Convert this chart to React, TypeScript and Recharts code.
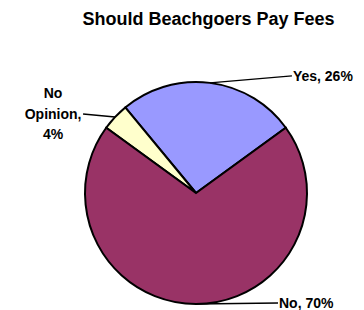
import React from "react";
import { PieChart, Pie, Cell } from "recharts";

const categories = ["Yes", "No Opinion", "No"];
const values = [26, 4, 70];
const colors = ["#9999FF", "#FFFFCC", "#993366"];
const titleText = "Should Beachgoers Pay Fees";

const data = categories.map((name, i) => ({ name, value: values[i] }));

// leader line end offsets relative to the slice's edge point
const labelLayout: Record<string, { dx: number; dy: number; side: "left" | "right" }> = {
  Yes: { dx: 82, dy: -7, side: "right" },
  "No Opinion": { dx: -32, dy: -3, side: "left" },
  No: { dx: 82, dy: -1, side: "right" },
};

const FONT = "'Liberation Sans', Arial, sans-serif";
const RAD = Math.PI / 180;

const renderLabel = (props: any) => {
  const { cx, cy, midAngle, outerRadius, name, percent } = props;
  const sx = cx + outerRadius * Math.cos(-midAngle * RAD);
  const sy = cy + outerRadius * Math.sin(-midAngle * RAD);
  const lay = labelLayout[name] || { dx: 30, dy: 0, side: "right" };
  const ex = sx + lay.dx;
  const ey = sy + lay.dy;
  const pct = `${Math.round(percent * 100)}%`;
  if (lay.side === "right") {
    return (
      <g key={`lbl-${name}`}>
        <path d={`M${sx},${sy}L${ex},${ey}`} stroke="#000" strokeWidth={1.5} fill="none" />
        <text
          x={ex + 1}
          y={ey}
          dy="0.35em"
          textAnchor="start"
          fontFamily={FONT}
          fontWeight="bold"
          fontSize={14}
          fill="#000"
        >
          {`${name}, ${pct}`}
        </text>
      </g>
    );
  }
  const words = name.split(" ");
  const lines = [...words.slice(0, -1), `${words[words.length - 1]},`, pct];
  const tx = ex - 30;
  const lh = 20.5;
  const mid = 1;
  return (
    <g key={`lbl-${name}`}>
      <path d={`M${sx},${sy}L${ex},${ey}`} stroke="#000" strokeWidth={1.5} fill="none" />
      <text textAnchor="middle" fontFamily={FONT} fontWeight="bold" fontSize={14} fill="#000">
        {lines.map((l, i) => (
          <tspan key={i} x={tx} y={ey + (i - mid) * lh} dy="0.35em">
            {l}
          </tspan>
        ))}
      </text>
    </g>
  );
};

export default function App() {
  return (
    <div style={{ position: "absolute", left: 0, top: 0, width: 364, height: 310, background: "#fff" }}>
      <div
        style={{
          position: "absolute",
          left: 53,
          top: 10,
          width: 311,
          textAlign: "center",
          fontFamily: FONT,
          fontWeight: "bold",
          fontSize: 18,
          lineHeight: "18px",
          color: "#000",
          whiteSpace: "nowrap",
        }}
      >
        {titleText}
      </div>
      <PieChart width={364} height={310}>
        <Pie
          data={data}
          dataKey="value"
          nameKey="name"
          cx={191}
          cy={188}
          outerRadius={111}
          startAngle={36}
          endAngle={396}
          stroke="#000"
          strokeWidth={2}
          label={renderLabel}
          labelLine={false}
          isAnimationActive={false}
        >
          {data.map((d, i) => (
            <Cell key={d.name} fill={colors[i]} stroke="#000" strokeWidth={2} />
          ))}
        </Pie>
      </PieChart>
    </div>
  );
}
